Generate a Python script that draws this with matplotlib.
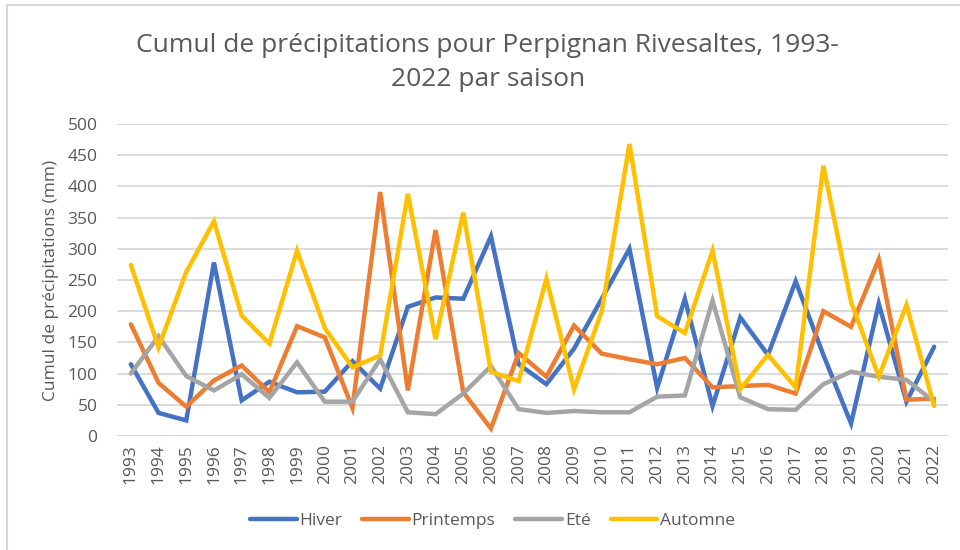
import matplotlib.pyplot as plt
from matplotlib.patches import Rectangle

annees = list(range(1993, 2023))

hiver = [115, 37, 25, 278, 57, 87, 70, 71, 120, 76,
         207, 222, 220, 320, 115, 83, 140, 220, 300, 77,
         220, 48, 190, 130, 248, 130, 20, 212, 55, 143]
printemps = [179, 85, 47, 89, 113, 70, 176, 158, 45, 391,
             73, 330, 70, 12, 133, 95, 177, 132, 123, 115,
             125, 78, 80, 82, 68, 200, 175, 283, 58, 60]
ete = [100, 160, 96, 73, 99, 61, 118, 55, 55, 123,
       38, 35, 68, 112, 43, 37, 40, 38, 38, 63,
       65, 217, 62, 43, 42, 83, 103, 95, 90, 55]
automne = [274, 142, 263, 344, 193, 148, 297, 173, 110, 129,
           388, 155, 358, 103, 88, 252, 75, 200, 468, 192,
           165, 297, 75, 130, 78, 433, 215, 95, 210, 48]

series = [("Hiver", hiver, "#4472C4"),
          ("Printemps", printemps, "#ED7D31"),
          ("Eté", ete, "#A5A5A5"),
          ("Automne", automne, "#FFC000")]

plt.rcParams['font.family'] = ['Open Sans', 'DejaVu Sans']
gris = '#595959'

fig = plt.figure(figsize=(9.6, 5.5), dpi=100)
fig.patch.set_facecolor('white')
# cadre du graphique
fig.patches.append(Rectangle((7 / 960, -0.01), 1.0, 1 - 5 / 550 + 0.01,
                             transform=fig.transFigure, fill=False,
                             edgecolor='#D9D9D9', linewidth=1.5))

ax = fig.add_axes([117 / 960, 1 - 436 / 550, (948 - 117) / 960, (436 - 124) / 550])

x = list(range(len(annees)))
for nom, vals, coul in series:
    ax.plot(x, vals, color=coul, linewidth=3.2, label=nom,
            solid_joinstyle='miter', solid_capstyle='round')

ax.set_ylim(0, 500)
ax.set_yticks(range(0, 501, 50))
ax.set_xlim(-0.5, len(annees) - 0.5)
ax.set_xticks(x)
ax.set_xticklabels([str(a) for a in annees], rotation=90)
ax.grid(axis='y', color='#D9D9D9', linewidth=1.3)
ax.set_axisbelow(True)
for s in ax.spines.values():
    s.set_visible(False)
ax.tick_params(axis='both', length=0, labelsize=12.5, labelcolor=gris)
ax.tick_params(axis='y', pad=14)
ax.tick_params(axis='x', pad=6)

ax.set_ylabel("Cumul de précipitations (mm)", fontsize=12.5, color=gris, labelpad=6)

fig.text(0.508, 1 - 45 / 550, "Cumul de précipitations pour Perpignan Rivesaltes, 1993-",
         ha='center', va='center', fontsize=19, color=gris)
fig.text(0.508, 1 - 80 / 550, "2022 par saison",
         ha='center', va='center', fontsize=19, color=gris)

fig.legend(loc='center', bbox_to_anchor=(0.513, 1 - 521 / 550), ncol=4,
           frameon=False, fontsize=12.5, labelcolor=gris, handlelength=2.7,
           handletextpad=0.15, columnspacing=1.15)

fig.savefig("out.png", dpi=100)
